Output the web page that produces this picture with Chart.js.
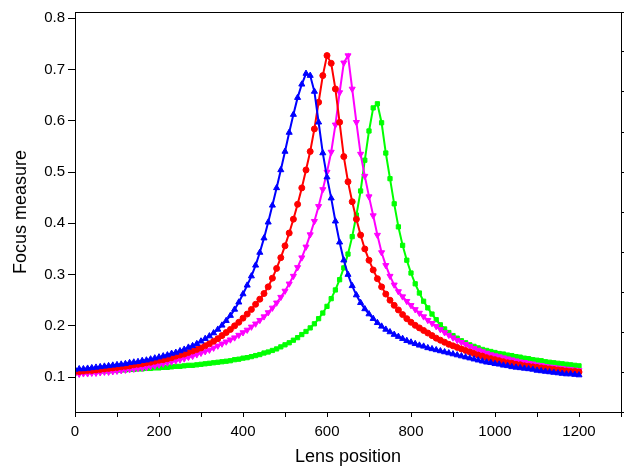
<!DOCTYPE html>
<html lang="en">
<head>
    <meta charset="UTF-8">
    <title>Focus measure</title>
    <script src="https://cdn.jsdelivr.net/npm/chart.js"></script>
    <style>
        body {
            margin: 0;
            background-color: #ffffff;
        }
    </style>
</head>
<body>
    <canvas id="grafico" width="627" height="468"></canvas>

    <script>
        // lens positions (x) and focus measure for each curve
        const lensPos = [
            0, 10, 20, 30, 40, 50, 60, 70, 80, 90,
            100, 110, 120, 130, 140, 150, 160, 170, 180, 190,
            200, 210, 220, 230, 240, 250, 260, 270, 280, 290,
            300, 310, 320, 330, 340, 350, 360, 370, 380, 390,
            400, 410, 420, 430, 440, 450, 460, 470, 480, 490,
            500, 510, 520, 530, 540, 550, 560, 570, 580, 590,
            600, 610, 620, 630, 640, 650, 660, 670, 680, 690,
            700, 710, 720, 730, 740, 750, 760, 770, 780, 790,
            800, 810, 820, 830, 840, 850, 860, 870, 880, 890,
            900, 910, 920, 930, 940, 950, 960, 970, 980, 990,
            1000, 1010, 1020, 1030, 1040, 1050, 1060, 1070, 1080, 1090,
            1100, 1110, 1120, 1130, 1140, 1150, 1160, 1170, 1180, 1190,
            1200
        ];

        const azul = [
            0.115, 0.116, 0.116, 0.117, 0.118, 0.119, 0.120, 0.121, 0.122, 0.123,
            0.124, 0.125, 0.126, 0.128, 0.129, 0.130, 0.132, 0.133, 0.135, 0.137,
            0.139, 0.141, 0.143, 0.146, 0.148, 0.151, 0.154, 0.158, 0.161, 0.165,
            0.170, 0.175, 0.180, 0.186, 0.193, 0.201, 0.210, 0.220, 0.232, 0.246,
            0.262, 0.279, 0.297, 0.318, 0.343, 0.371, 0.402, 0.435, 0.469, 0.504,
            0.540, 0.577, 0.612, 0.645, 0.671, 0.692, 0.688, 0.657, 0.597, 0.537,
            0.490, 0.449, 0.404, 0.363, 0.328, 0.300, 0.278, 0.260, 0.245, 0.233,
            0.223, 0.214, 0.206, 0.199, 0.193, 0.188, 0.183, 0.179, 0.175, 0.171,
            0.168, 0.165, 0.162, 0.160, 0.157, 0.155, 0.153, 0.151, 0.149, 0.147,
            0.145, 0.143, 0.141, 0.139, 0.137, 0.135, 0.133, 0.131, 0.129, 0.128,
            0.126, 0.125, 0.123, 0.122, 0.120, 0.119, 0.118, 0.117, 0.116, 0.115,
            0.113, 0.112, 0.111, 0.110, 0.109, 0.108, 0.107, 0.106, 0.106, 0.105,
            0.104
        ];

        const vermelho = [
            0.111, 0.111, 0.112, 0.113, 0.113, 0.114, 0.115, 0.116, 0.117, 0.118,
            0.119, 0.120, 0.121, 0.122, 0.124, 0.125, 0.126, 0.128, 0.129, 0.131,
            0.133, 0.134, 0.136, 0.138, 0.141, 0.143, 0.145, 0.148, 0.151, 0.154,
            0.157, 0.161, 0.165, 0.170, 0.175, 0.181, 0.187, 0.193, 0.200, 0.207,
            0.215, 0.223, 0.232, 0.242, 0.252, 0.263, 0.276, 0.293, 0.312, 0.333,
            0.356, 0.381, 0.408, 0.437, 0.469, 0.504, 0.540, 0.584, 0.636, 0.688,
            0.727, 0.712, 0.662, 0.597, 0.530, 0.481, 0.442, 0.408, 0.377, 0.350,
            0.328, 0.309, 0.292, 0.276, 0.262, 0.250, 0.240, 0.231, 0.222, 0.214,
            0.207, 0.201, 0.196, 0.191, 0.186, 0.181, 0.176, 0.172, 0.168, 0.164,
            0.161, 0.158, 0.155, 0.152, 0.149, 0.146, 0.143, 0.141, 0.138, 0.136,
            0.134, 0.132, 0.130, 0.128, 0.127, 0.125, 0.124, 0.122, 0.121, 0.120,
            0.119, 0.118, 0.117, 0.116, 0.115, 0.114, 0.113, 0.112, 0.111, 0.111,
            0.110
        ];

        const magenta = [
            0.106, 0.106, 0.107, 0.107, 0.108, 0.108, 0.109, 0.110, 0.110, 0.111,
            0.112, 0.113, 0.114, 0.115, 0.116, 0.117, 0.118, 0.119, 0.121, 0.122,
            0.124, 0.126, 0.128, 0.130, 0.132, 0.134, 0.136, 0.139, 0.141, 0.144,
            0.147, 0.150, 0.153, 0.157, 0.161, 0.165, 0.169, 0.173, 0.177, 0.182,
            0.187, 0.192, 0.198, 0.204, 0.211, 0.218, 0.226, 0.235, 0.245, 0.256,
            0.268, 0.282, 0.297, 0.314, 0.333, 0.354, 0.378, 0.404, 0.433, 0.466,
            0.500, 0.539, 0.592, 0.655, 0.713, 0.727, 0.662, 0.597, 0.535, 0.492,
            0.452, 0.415, 0.377, 0.343, 0.318, 0.297, 0.280, 0.267, 0.257, 0.248,
            0.240, 0.232, 0.225, 0.218, 0.211, 0.205, 0.199, 0.193, 0.187, 0.182,
            0.177, 0.172, 0.168, 0.164, 0.160, 0.156, 0.153, 0.150, 0.147, 0.144,
            0.142, 0.140, 0.138, 0.136, 0.134, 0.132, 0.130, 0.129, 0.127, 0.126,
            0.124, 0.123, 0.121, 0.120, 0.119, 0.118, 0.117, 0.116, 0.115, 0.114,
            0.113
        ];

        const verde = [
            0.109, 0.110, 0.110, 0.111, 0.111, 0.111, 0.112, 0.112, 0.112, 0.113,
            0.113, 0.114, 0.114, 0.115, 0.115, 0.116, 0.116, 0.117, 0.117, 0.118,
            0.118, 0.119, 0.119, 0.120, 0.121, 0.121, 0.122, 0.123, 0.123, 0.124,
            0.125, 0.126, 0.127, 0.128, 0.129, 0.130, 0.131, 0.132, 0.134, 0.135,
            0.137, 0.138, 0.140, 0.142, 0.144, 0.147, 0.149, 0.152, 0.155, 0.159,
            0.163, 0.167, 0.172, 0.177, 0.183, 0.189, 0.196, 0.204, 0.214, 0.225,
            0.238, 0.253, 0.270, 0.290, 0.313, 0.340, 0.374, 0.416, 0.463, 0.523,
            0.580, 0.625, 0.633, 0.596, 0.537, 0.487, 0.438, 0.393, 0.357, 0.328,
            0.303, 0.282, 0.264, 0.248, 0.235, 0.223, 0.212, 0.202, 0.194, 0.187,
            0.181, 0.176, 0.171, 0.167, 0.163, 0.160, 0.157, 0.154, 0.152, 0.150,
            0.148, 0.146, 0.145, 0.143, 0.142, 0.140, 0.139, 0.137, 0.136, 0.134,
            0.133, 0.132, 0.130, 0.129, 0.128, 0.127, 0.126, 0.125, 0.124, 0.123,
            0.122
        ];

        const xTicks = [0, 100, 200, 300, 400, 500, 600, 700, 800, 900, 1000, 1100, 1200, 1300];
        const yTicks = [0.1, 0.2, 0.3, 0.4, 0.5, 0.6, 0.7, 0.8];

        const fonte = "'Liberation Sans', Arial, Helvetica, sans-serif";

        function pontos(serie) {
            return lensPos.map((x, i) => ({ x: x, y: serie[i] }));
        }

        function curva(serie, cor, estilo, rotacao, raio) {
            return {
                data: pontos(serie),
                borderColor: cor,
                backgroundColor: cor,
                borderWidth: 2,
                pointStyle: estilo,
                pointRotation: rotacao,
                pointRadius: raio,
                pointBorderWidth: 1,
                pointBackgroundColor: cor,
                pointBorderColor: cor,
                tension: 0
            };
        }

        // moldura do gráfico (linha de cima e da direita)
        const moldura = {
            id: 'moldura',
            afterDraw(chart) {
                const a = chart.chartArea;
                const c = chart.ctx;
                c.save();
                c.strokeStyle = '#000';
                c.lineWidth = 1;
                c.strokeRect(a.left + 0.5, a.top + 0.5, a.right - a.left, a.bottom - a.top);
                c.restore();
            }
        };

        const ctx = document.getElementById("grafico").getContext("2d");
        const chart = new Chart(ctx, {
            type: 'line',
            data: {
                datasets: [
                    curva(azul, '#0000ff', 'triangle', 0, 3.5),
                    curva(vermelho, '#ff0000', 'circle', 0, 3),
                    curva(magenta, '#ff00ff', 'triangle', 180, 3.5),
                    curva(verde, '#00ff00', 'rect', 0, 3)
                ]
            },
            options: {
                responsive: false,
                animation: false,
                layout: { padding: { top: 9, left: 0, right: 0, bottom: 0 } },
                plugins: {
                    legend: { display: false },
                    tooltip: { enabled: false }
                },
                scales: {
                    x: {
                        type: 'linear',
                        min: 0,
                        max: 1300,
                        afterBuildTicks: s => { s.ticks = xTicks.map(v => ({ value: v })); },
                        afterFit: s => { s.height = 56; },
                        ticks: {
                            autoSkip: false,
                            maxRotation: 0,
                            color: '#000',
                            padding: 6,
                            font: { family: fonte, size: 15 },
                            callback: v => (v % 200 === 0 && v <= 1200) ? String(v) : ''
                        },
                        grid: { drawOnChartArea: false, tickLength: 5, color: '#000' },
                        border: { color: '#000', width: 1 },
                        title: {
                            display: true,
                            text: 'Lens position',
                            color: '#000',
                            font: { family: fonte, size: 18 },
                            padding: { top: 0, bottom: 0 }
                        }
                    },
                    y: {
                        min: 0.032,
                        max: 0.812,
                        afterBuildTicks: s => { s.ticks = yTicks.map(v => ({ value: v })); },
                        afterFit: s => { s.width = 75; },
                        ticks: {
                            color: '#000',
                            padding: 3,
                            font: { family: fonte, size: 15 },
                            callback: v => v.toFixed(1)
                        },
                        grid: { drawOnChartArea: false, tickLength: 7, color: '#000' },
                        border: { color: '#000', width: 1 },
                        title: {
                            display: true,
                            text: 'Focus measure',
                            color: '#000',
                            font: { family: fonte, size: 18 },
                            padding: { top: 10, bottom: 0 }
                        }
                    },
                    y2: {
                        position: 'right',
                        min: 0,
                        max: 10,
                        ticks: { display: false, stepSize: 1 },
                        afterFit: s => { s.width = 4; },
                        grid: { drawOnChartArea: false, tickLength: 3, color: '#000' },
                        border: { color: '#000', width: 1 }
                    }
                }
            },
            plugins: [moldura]
        });
    </script>
</body>
</html>
